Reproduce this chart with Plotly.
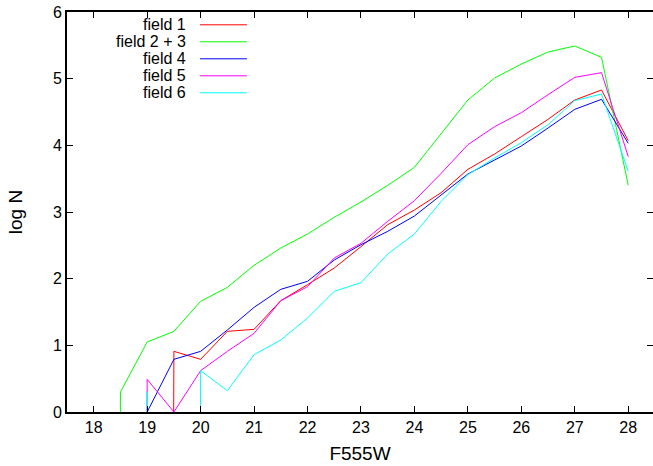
import plotly.graph_objects as go

# log N for an empty bin (log 0): drawn far below the axis, so the line drops out of view
LOG0 = -99.0

MAG = [18.0, 18.5, 19.0, 19.5, 20.0, 20.5, 21.0, 21.5, 22.0, 22.5, 23.0,
       23.5, 24.0, 24.5, 25.0, 25.5, 26.0, 26.5, 27.0, 27.5, 28.0]

field1 = [None, None, LOG0, 0.91, 0.79, 1.21, 1.24, 1.67, 1.91, 2.16, 2.48,
          2.81, 3.03, 3.29, 3.64, 3.87, 4.13, 4.39, 4.68, 4.83, 4.07]
field23 = [LOG0, 0.30, 1.05, 1.21, 1.66, 1.87, 2.20, 2.46, 2.67, 2.92, 3.15,
           3.40, 3.67, 4.18, 4.68, 5.01, 5.22, 5.40, 5.49, 5.32, 3.40]
field4 = [None, None, 0.00, 0.79, 0.91, 1.23, 1.57, 1.84, 1.96, 2.28, 2.51,
          2.71, 2.94, 3.26, 3.57, 3.78, 3.99, 4.26, 4.54, 4.69, 4.03]
field5 = [None, LOG0, 0.49, 0.00, 0.62, 0.91, 1.18, 1.67, 1.88, 2.31, 2.53,
          2.86, 3.17, 3.58, 4.01, 4.28, 4.49, 4.76, 5.02, 5.09, 3.83]
field6 = [None, LOG0, 0.30, LOG0, 0.62, 0.32, 0.86, 1.08, 1.41, 1.81, 1.94,
          2.37, 2.67, 3.16, 3.56, 3.81, 4.04, 4.31, 4.67, 4.77, 3.61]

names = ["field 1", "field 2 + 3", "field 4", "field 5", "field 6"]
series = [field1, field23, field4, field5, field6]
colors = ["#ff0000", "#00ff00", "#0000ff", "#ff00ff", "#00ffff"]

FONT = "Liberation Sans, Arial, Helvetica, sans-serif"

fig = go.Figure()
for name, vals, col in zip(names, series, colors):
    fig.add_trace(go.Scatter(x=MAG, y=vals, mode="lines", name=name,
                             line=dict(color=col, width=1),
                             connectgaps=False, showlegend=False))

# empty trace to host the right-side mirrored y ticks
fig.add_trace(go.Scatter(x=[], y=[], yaxis="y2", showlegend=False))

# gnuplot-style legend: right-aligned text, line sample to the right
leg_y0 = 0.968
leg_dy = 0.0425
for i, (name, col) in enumerate(zip(names, colors)):
    yy = leg_y0 - i * leg_dy
    fig.add_annotation(x=0.2065, y=yy, xref="paper", yref="paper",
                       text=name, showarrow=False, xanchor="right",
                       yanchor="middle", font=dict(size=16, color="black", family=FONT))
    fig.add_shape(type="line", xref="paper", yref="paper",
                  x0=0.227, x1=0.307, y0=yy, y1=yy,
                  line=dict(color=col, width=1))

fig.update_layout(
    width=653, height=466,
    margin=dict(l=67, r=0, t=12, b=54),
    plot_bgcolor="white", paper_bgcolor="white",
    font=dict(family=FONT, size=16, color="black"),
    showlegend=False,
    xaxis=dict(range=[17.5, 28.463], tick0=18, dtick=1, ticks="inside",
               ticklen=6, tickwidth=1, tickcolor="black",
               showline=True, linewidth=2, linecolor="black", mirror="ticks",
               showgrid=False, zeroline=False,
               title=dict(text="F555W", standoff=11),
               tickfont=dict(size=16)),
    yaxis=dict(range=[0, 6], tick0=0, dtick=1, ticks="inside",
               ticklen=6, tickwidth=1, tickcolor="black",
               showline=True, linewidth=2, linecolor="black", mirror=False,
               showgrid=False, zeroline=False,
               title=dict(text="log N", standoff=25),
               tickfont=dict(size=16)),
    yaxis2=dict(range=[0, 6], tick0=0, dtick=1, overlaying="y", side="right",
                ticks="inside", ticklen=6, tickwidth=1, tickcolor="black",
                showticklabels=False, showline=False, showgrid=False,
                zeroline=False),
)

fig.write_html("out.html")
